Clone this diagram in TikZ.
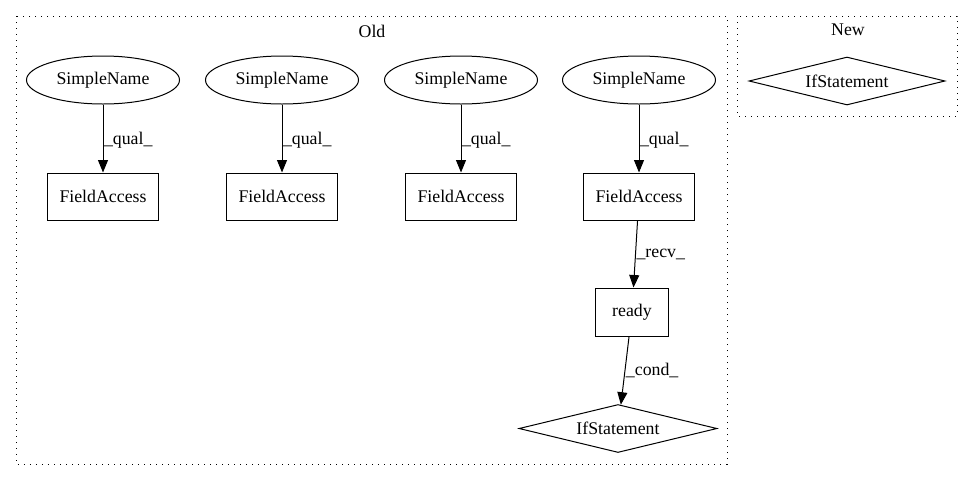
\documentclass[tikz,border=0pt]{standalone}
\usepackage{fontspec}
\setmainfont{Liberation Serif}
\usepackage{tikz}
\usetikzlibrary{shapes.geometric, arrows.meta}

\begin{document}
\begin{tikzpicture}
        [
            x=1pt, y=-1pt,
            every node/.style={font=\fontsize{17.8}{20}\selectfont},
            sname/.style={ellipse, draw, line width=1pt, minimum width=153pt,
                          minimum height=48pt, inner sep=0pt},
            fbox/.style={rectangle, draw, line width=1pt, minimum width=111pt,
                         minimum height=47pt, inner sep=0pt},
            ifstmt/.style={diamond, draw, line width=1pt, aspect=4,
                           minimum width=198pt, minimum height=48pt, inner sep=0pt},
            cluster/.style={draw, line width=1pt, dash pattern=on 1.3pt off 4.7pt},
            edge/.style={-{Triangle[length=12.5pt, width=10pt]}, line width=1pt},
            elabel/.style={right, inner sep=0.5pt}
        ]
        \useasboundingbox (0,0) rectangle (973,480);
        % clusters
        \draw [cluster] (16,16) rectangle (727,464);
        \draw [cluster] (737,16) rectangle (957,116);
        \node (old) at (372,31) {Old};
        \node (new) at (848,30) {New};
        \foreach \x [count = \i] in {103,282,461,639}{
            \node (sn\i) [sname] at (\x, 80) {SimpleName};
            \node (fa\i) [fbox] at (\x, 196.5) {FieldAccess};
            \draw [edge] (sn\i) to node[elabel, yshift=-2pt] {\_qual\_} (fa\i);
        }
        \node (ready) [fbox, minimum width=73pt, minimum height=48pt] at (632, 312) {ready};
        \node (if-old) [ifstmt] at (618, 428.5) {IfStatement};
        \node (if-new) [ifstmt, minimum width=196pt] at (847, 81) {IfStatement};
        \draw [edge] (fa4) to node[elabel] {\_recv\_} (ready);
        \draw [edge] (ready) to node[elabel] {\_cond\_} (if-old);
    \end{tikzpicture}
\end{document}
